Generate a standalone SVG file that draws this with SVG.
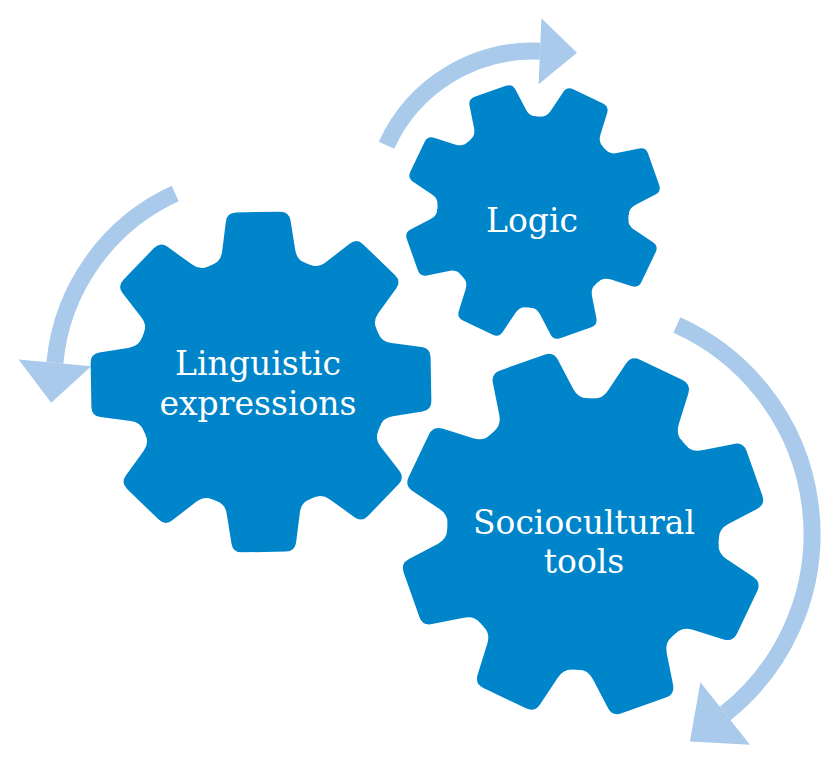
<svg xmlns="http://www.w3.org/2000/svg" width="837" height="773" viewBox="0 0 837 773">
<style>
.gear{fill:#0085ca}
.lbl{font-family:"DejaVu Serif",serif;font-size:33px;fill:#ffffff;text-anchor:middle}
.shaft{fill:none;stroke:#a9caea;stroke-width:17}
.head{fill:#a9caea}
</style>
<defs>
<path id="tooth" d="M-46.5,-118.2 Q-38,-121.2 -36.6,-131.1 L-32.3,-161.1 Q-31,-170 -22,-170 L22,-170 Q31,-170 32.3,-161.1 L36.6,-131.1 Q38,-121.2 46.5,-118.2 L0,-80 Z"/>
<g id="gearshape">
<circle r="127"/>
<use href="#tooth"/>
<use href="#tooth" transform="rotate(45)"/>
<use href="#tooth" transform="rotate(90)"/>
<use href="#tooth" transform="rotate(135)"/>
<use href="#tooth" transform="rotate(180)"/>
<use href="#tooth" transform="rotate(225)"/>
<use href="#tooth" transform="rotate(270)"/>
<use href="#tooth" transform="rotate(315)"/>
</g>
</defs>
<rect width="837" height="773" fill="#ffffff"/>
<g id="connectors">
<path class="shaft" d="M175.2,193.6 A207,207 0 0 0 54.9,362.9"/>
<polygon class="head" points="18.6,359.5 91.2,366.3 51.2,402.7"/>
<path class="shaft" d="M386.5,145.2 A161,161 0 0 1 540,51.2"/>
<polygon class="head" points="541.4,18.2 538.6,84.2 577,52.8"/>
<path class="shaft" d="M676.9,325.1 A229,229 0 0 1 725.2,713.5"/>
<polygon class="head" points="750,744.8 700.4,682.2 689.9,741.4"/>
</g>
<g id="gear-linguistic">
<use href="#gearshape" class="gear" transform="translate(261,382) rotate(-1)"/>
<text class="lbl" x="258" y="375">Linguistic</text>
<text class="lbl" x="258" y="415">expressions</text>
</g>
<g id="gear-logic">
<use href="#gearshape" class="gear" transform="translate(533,212) rotate(25.5) scale(0.753)"/>
<text class="lbl" x="532" y="232">Logic</text>
</g>
<g id="gear-sociocultural">
<use href="#gearshape" class="gear" transform="translate(583,534) rotate(25.5) scale(1.07)"/>
<text class="lbl" x="584" y="534">Sociocultural</text>
<text class="lbl" x="584" y="573">tools</text>
</g>
</svg>
